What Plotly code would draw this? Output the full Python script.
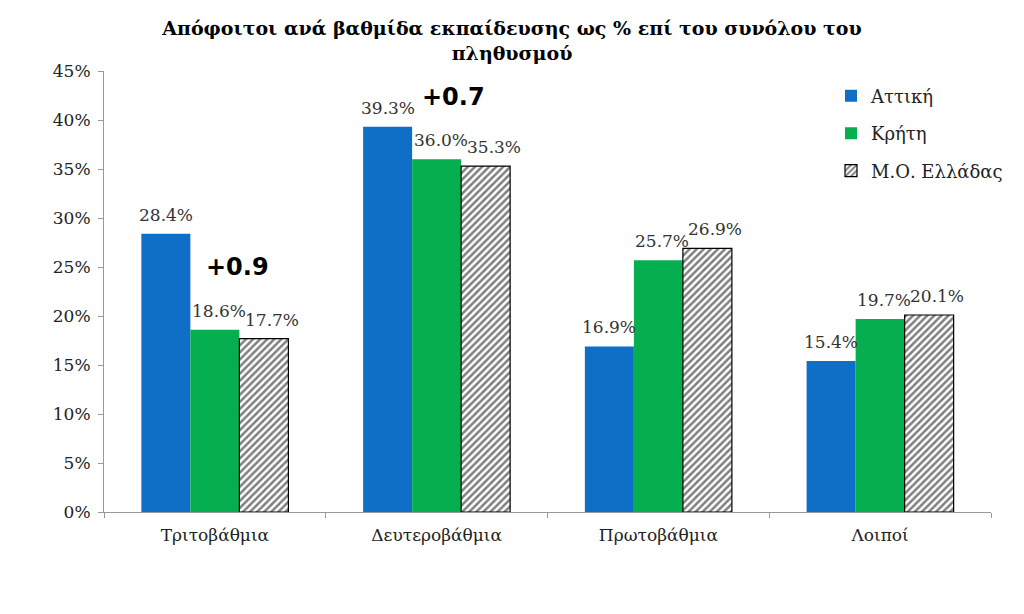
import plotly.graph_objects as go

categories = ["Τριτοβάθμια", "Δευτεροβάθμια", "Πρωτοβάθμια", "Λοιποί"]
attiki = [28.4, 39.3, 16.9, 15.4]
kriti = [18.6, 36.0, 25.7, 19.7]
mo_ellada = [17.7, 35.3, 26.9, 20.1]
series_names = ["Αττική", "Κρήτη", "Μ.Ο. Ελλάδας"]
diff_labels = ["+0.9", "+0.7"]
diff_pos = [(0, 25.0), (1, 42.3)]
diff_shift = [23, 17]

serif = "DejaVu Serif, Liberation Serif, serif"
lbl_font = dict(family=serif, size=17, color="#333333")

W, H = 1024, 614
ML, MR, MT, MB = 104, 33, 71, 102
BARGAP = 0.337
cat_px = (W - ML - MR) / len(categories)
bar_px = cat_px * (1 - BARGAP) / 3
label_nudge = [0, 4, 8]

fig = go.Figure()
fig.add_trace(go.Bar(x=categories, y=attiki, name=series_names[0], legendgroup="a",
                     marker=dict(color="#0F6EC6", line=dict(width=0))))
fig.add_trace(go.Bar(x=categories, y=kriti, name=series_names[1], legendgroup="b",
                     marker=dict(color="#05AF50", line=dict(width=0))))
fig.add_trace(go.Bar(x=categories, y=mo_ellada, name=series_names[2], legendgroup="c",
                     marker=dict(color="white",
                                 line=dict(color="black", width=1.2),
                                 pattern=dict(shape="/", fgcolor="black", bgcolor="white",
                                              size=5, solidity=0.5))))

# value labels above bars
for si, series in enumerate([attiki, kriti, mo_ellada]):
    for c, v in zip(categories, series):
        fig.add_annotation(x=c, y=v, text=f"{v:.1f}%", showarrow=False,
                           xref="x", yref="y", xshift=(si - 1) * bar_px + label_nudge[si],
                           yanchor="bottom", yshift=7, font=lbl_font)

for txt, (ci, yv), xs in zip(diff_labels, diff_pos, diff_shift):
    fig.add_annotation(x=categories[ci], y=yv, text="<b>" + txt + "</b>", showarrow=False,
                       xref="x", yref="y", xshift=xs,
                       font=dict(family="DejaVu Sans, Arial, sans-serif", size=24, color="black"))

fig.update_layout(
    width=W, height=H,
    paper_bgcolor="white", plot_bgcolor="white",
    margin=dict(l=ML, r=MR, t=MT, b=MB),
    barmode="group", bargap=BARGAP, bargroupgap=0,
    title=dict(text="<b>Απόφοιτοι ανά βαθμίδα εκπαίδευσης ως % επί του συνόλου του<br>πληθυσμού</b>",
               x=0.5, xanchor="center", y=1 - 35 / 614, yanchor="middle",
               font=dict(family=serif, size=19, color="black")),
    legend=dict(x=(831 - ML) / (W - ML - MR), y=0.985, xanchor="left", yanchor="top",
                font=dict(family=serif, size=18, color="#222222"),
                tracegroupgap=11, itemwidth=30, bgcolor="rgba(0,0,0,0)"),
    showlegend=True,
)
fig.update_xaxes(showline=True, linecolor="#999999", linewidth=1,
                 ticks="outside", tickson="boundaries", ticklen=5, tickcolor="#999999",
                 tickfont=dict(family=serif, size=17, color="#222222"),
                 ticklabelstandoff=8, showgrid=False)
fig.update_yaxes(range=[0, 45], dtick=5, ticksuffix="%",
                 showline=True, linecolor="#999999", linewidth=1,
                 ticks="outside", ticklen=5, tickcolor="#999999",
                 tickfont=dict(family=serif, size=17, color="#222222"),
                 ticklabelstandoff=4, showgrid=False, zeroline=False)

fig.write_html("out.html", config={"displayModeBar": False},
               post_script="document.body.style.margin='0';document.body.style.overflow='hidden';")
